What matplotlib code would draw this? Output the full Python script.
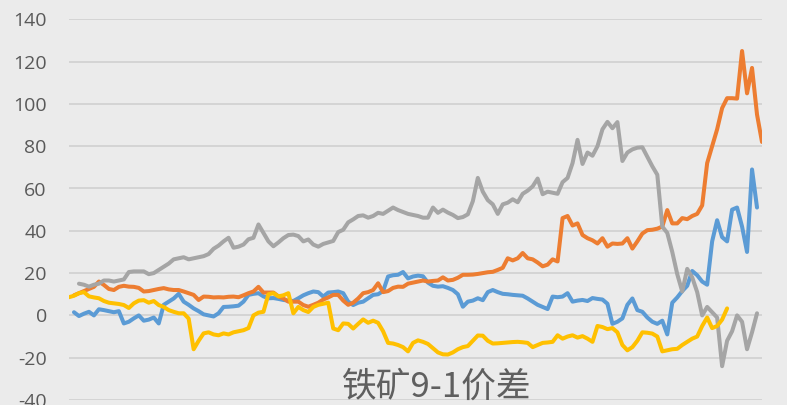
import numpy as np
import matplotlib
matplotlib.use("Agg")
import matplotlib.pyplot as plt

nan = np.nan

# day index (common trading-day axis)
days = np.arange(140)

blue = [nan, 1.5, -0.3, 0.8, 1.7, 0, 2.9, 2.5, 2, 1.5,
        2, -3.8, -3, -1.4, 0, -2.5, -2, -1, -3.8, 5,
        6.5, 8, 10.2, 6.5, 5, 3.3, 2, 0.5, 0, -0.5,
        1, 4, 4.1, 4.3, 4.6, 6.5, 9.7, 10.2, 10.5, 9,
        8.1, 8.2, 7.8, 7.3, 7, 6.8, 8.1, 9.5, 10.5, 11.3,
        11, 8.9, 10.8, 11, 11.3, 10.5, 6.5, 4.9, 6, 6.5,
        8.1, 9.7, 10, 11.5, 18.4, 19, 19.2, 20.5, 17.5, 18.4,
        18.8, 18.5, 15.5, 14, 13.6, 13.8, 13, 12, 10, 4.1,
        6.5, 7, 8.1, 7.2, 11, 12, 11, 10.2, 10, 9.7,
        9.5, 9.3, 8, 6.5, 5, 4, 3, 8.9, 8.6, 8.9,
        10.5, 6.5, 7, 7.3, 6.8, 8.2, 7.8, 7.5, 5.5, -4,
        -3, -1.4, 5, 8, 2.5, 1.7, -1, -3, -4, -2.5,
        -9, 6, 8.5, 11.5, 14, 21, 19, 16, 14.5, 35,
        45, 37, 35, 50, 51, 42, 30, 69, 51, nan]

orange = [nan, 9.5, 10.5, 11.5, 12.5, 13.5, 16, 14.4, 12.5, 12,
          13.5, 14, 13.6, 13.5, 13, 11.3, 11.5, 12, 12.5, 12.9,
          12.3, 12, 12, 11.3, 10.5, 9.7, 7.3, 8.9, 8.8, 8.5,
          8.6, 8.5, 8.8, 8.9, 8.6, 9.5, 10.5, 11.3, 13.5, 10.8,
          10.8, 10.8, 9, 8, 6.5, 6.5, 6.5, 4.9, 4.1, 5,
          6, 7.5, 8.5, 9.7, 9.7, 7, 5, 6, 8, 10.5,
          11, 12, 15.2, 11, 11.5, 13, 13.6, 13.5, 15, 15.5,
          16, 16.5, 16, 16.3, 16.5, 18, 16.5, 16.8, 17.8, 19.2,
          19.2, 19.3, 19.6, 20, 20.4, 20.6, 21.5, 22.5, 27, 26,
          27, 29.5, 27, 26.5, 25, 23.2, 24, 26.5, 25.5, 46,
          47, 42.5, 43.5, 38, 36.5, 35.5, 34, 36.5, 32.5, 34,
          33.8, 34, 36.5, 31.6, 35, 38.7, 40.3, 40.5, 41, 42,
          49.8, 43.5, 43.5, 46, 45.5, 47, 48, 52, 72, 80,
          88, 98, 102.7, 102.7, 102.5, 125, 105, 117, 95, 82]

gray = [nan, nan, 15, 14.5, 13.6, 14.5, 15, 16.5, 16.5, 16,
        16.5, 17, 20.5, 20.8, 20.8, 20.8, 19.5, 20, 21.5, 23,
        24.5, 26.5, 27, 27.5, 26.5, 27, 27.5, 28, 29, 31.5,
        33, 35, 36.7, 32, 32.5, 33.5, 36, 36.7, 43, 39,
        35, 32.7, 34.5, 36.5, 38, 38.2, 37.5, 35, 35.9, 33.5,
        32.5, 33.8, 34.5, 35.2, 39.4, 40.5, 44, 45.4, 47, 47.3,
        46.2, 47, 48.5, 48, 49.5, 51, 49.8, 48.9, 48, 47.5,
        47, 46.2, 46.2, 51, 48.5, 50, 48.6, 47.5, 46, 46.5,
        47.8, 54, 65, 58.5, 54.5, 52.5, 48, 52.5, 53.3, 54.9,
        53.5, 57.5, 59, 61, 64.7, 57.3, 58.5, 58, 57.5, 63,
        65, 72, 83, 71.6, 77, 75.5, 80, 88, 91.5, 88.5,
        91.4, 73, 77, 78.5, 79.3, 79.5, 75, 70.5, 66.5, 42,
        39, 30, 19.5, 11.3, 22, 18, 11, 0, 4, 1.5,
        -1, -24, -12, -7.5, 0, -3, -16, -8, 1, nan]

yellow = [8.6, 9.3, 10.5, 11, 9, 8.5, 8.1, 6.8, 6, 5.7,
          5.4, 4.9, 3.5, 5.7, 7, 7.2, 6, 6.8, 4.9, 4,
          2.5, 1.7, 1, 1, -1.5, -16, -12, -8.5, -8, -9,
          -9.4, -8.5, -9, -8, -7.5, -7, -6, 0, 1.3, 1.7,
          10, 10.5, 9, 9.5, 10.5, 1, 4, 2.5, 1.6, 4,
          5, 5.5, 6, -6.2, -7, -3.8, -4, -6.2, -4, -1.9,
          -3.5, -2.5, -3.5, -7.5, -13, -13.3, -14, -15, -17, -13,
          -11.8, -12.5, -13.5, -15.5, -17.5, -18.4, -18.5, -17.5, -16, -15,
          -14.5, -12, -9.5, -9.6, -12, -13.3, -13.2, -13, -12.8, -12.6,
          -12.5, -12.7, -13, -15, -14, -13, -12.8, -12.5, -9.4, -11,
          -10, -9.4, -10.5, -9.8, -11, -12.5, -5, -5.5, -6.5, -6,
          -8, -14, -16.5, -15, -12, -8, -8.2, -8.6, -10, -17,
          -16.5, -16, -15.8, -14, -12.5, -11, -10, -5, -1, -6,
          -5, -2, 3.3, nan, nan, nan, nan, nan, nan, nan]

y_ticks = [-40, -20, 0, 20, 40, 60, 80, 100, 120, 140]
title = "铁矿9-1价差"

series = [(blue, "#5B9BD5"), (orange, "#ED7D31"), (gray, "#A5A5A5"), (yellow, "#FFC000")]

W, H = 787, 405
fig = plt.figure(figsize=(W / 100, H / 100), dpi=100)
fig.patch.set_facecolor("#ebebeb")
ax = fig.add_axes([69 / W, (H - 400) / H, (762 - 69) / W, (400 - 19.3) / H])
ax.set_facecolor("none")

for vals, col in series:
    ax.plot(days, vals, color=col, lw=2.9, solid_joinstyle="round", solid_capstyle="round", zorder=3)

ax.set_ylim(-40, 140)
ax.set_xlim(0, 139)
ax.set_yticks(y_ticks)
ax.set_yticklabels([str(t) for t in y_ticks], fontsize=14, color="#595959", family=["Open Sans", "DejaVu Sans"])
ax.set_xticks([])
ax.tick_params(axis="y", length=0, pad=16)
ax.grid(axis="y", color="#d2d2d2", lw=1.3, zorder=1)
for s in ax.spines.values():
    s.set_visible(False)

fig.text(436.5 / W, 0.02, title, ha="center", va="baseline", fontsize=25, color="#5f5f5f",
         family=["Noto Sans CJK SC", "DejaVu Sans"])

fig.savefig("out.png", dpi=100, facecolor=fig.get_facecolor())
